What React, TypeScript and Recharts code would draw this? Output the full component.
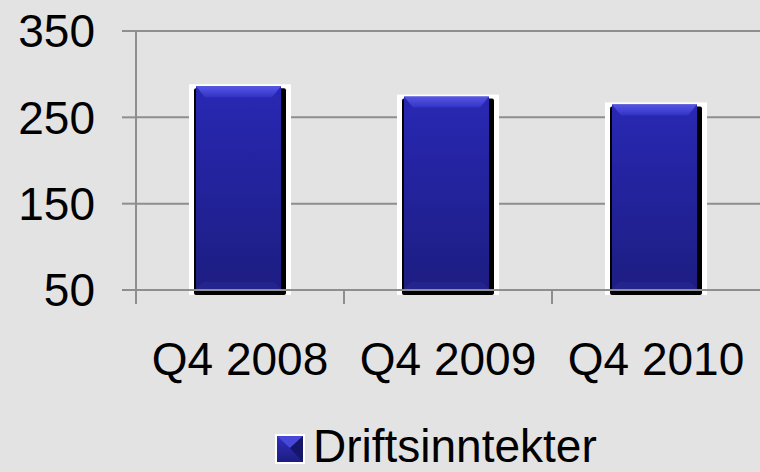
import { BarChart, Bar, XAxis, YAxis, CartesianGrid, Legend } from 'recharts';

const categories = ['Q4 2008', 'Q4 2009', 'Q4 2010'];
const driftsinntekter = [286, 274, 265];
const yTicks = [50, 150, 250, 350];

const data = categories.map((name, i) => ({ name, value: driftsinntekter[i] }));

const GRID = '#8e8e8e';
const FONT = '"Liberation Sans", Arial, sans-serif';

const BarShape = (props: any) => {
  const { x, y, width, height } = props;
  return (
    <g>
      <rect x={x - 5} y={y - 2} width={width + 10} height={height + 7} fill="#ffffff" />
      <rect x={x} y={y + 2} width={width} height={height + 3} fill="#000000" rx={2} />
      <rect x={x + 2} y={y} width={width - 7} height={height - 1} fill="url(#barGrad)" />
      <polygon
        points={`${x + 2},${y} ${x + width - 5},${y} ${x + width - 14},${y + 11} ${x + 11},${y + 11}`}
        fill="url(#bevelGrad)"
      />
      <polygon
        points={`${x + 2},${y + height - 1} ${x + width - 5},${y + height - 1} ${x + width - 12},${y + height - 8} ${x + 9},${y + height - 8}`}
        fill="#24248e"
      />
    </g>
  );
};

const CategoryTick = (props: any) => {
  const { x, y, payload } = props;
  const half = payload && payload.offset ? payload.offset : 104;
  return (
    <g>
      <line x1={x - half} y1={y} x2={x - half} y2={y + 14} stroke={GRID} strokeWidth={2} />
      <text x={x} y={375} textAnchor="middle" fontSize={46} fontFamily={FONT} fill="#000">
        {payload.value}
      </text>
    </g>
  );
};

const LegendContent = () => (
  <div style={{ position: 'relative', width: 760, height: 70, fontFamily: FONT }}>
    <svg width={30} height={30} style={{ position: 'absolute', left: 275, top: 32 }}>
      <defs>
        <linearGradient id="legGrad" x1="0" y1="0" x2="0" y2="1">
          <stop offset="0%" stopColor="#3030c0" />
          <stop offset="100%" stopColor="#1c1c80" />
        </linearGradient>
      </defs>
      <rect x={0} y={0} width={30} height={30} fill="#ffffff" />
      <rect x={2} y={2} width={26} height={26} fill="url(#legGrad)" />
      <polygon points="2,2 28,2 15,14" fill="#4848d8" />
      <polygon points="28,2 28,28 15,14" fill="#15156a" />
    </svg>
    <span
      style={{
        position: 'absolute',
        left: 313,
        top: 24,
        fontSize: 46,
        lineHeight: '40px',
        color: '#000',
        whiteSpace: 'nowrap',
      }}
    >
      Driftsinntekter
    </span>
  </div>
);

export default function App() {
  return (
    <div style={{ position: 'absolute', left: 0, top: 0, width: 760, height: 472, background: '#e3e3e3' }}>
      <BarChart width={760} height={472} data={data} margin={{ top: 31, right: 0, left: 0, bottom: 0 }} barCategoryGap="0%">
        <defs>
          <linearGradient id="barGrad" x1="0" y1="0" x2="0" y2="1">
            <stop offset="0%" stopColor="#2828b4" />
            <stop offset="100%" stopColor="#1d1d82" />
          </linearGradient>
          <linearGradient id="bevelGrad" x1="0" y1="0" x2="0" y2="1">
            <stop offset="0%" stopColor="#5656e6" />
            <stop offset="100%" stopColor="#3232c4" />
          </linearGradient>
        </defs>
        <CartesianGrid vertical={false} stroke={GRID} strokeWidth={2} />
        <XAxis
          dataKey="name"
          height={112}
          axisLine={{ stroke: GRID, strokeWidth: 2 }}
          tickLine={false}
          tickSize={0}
          tickMargin={0}
          tick={<CategoryTick />}
          interval={0}
        />
        <YAxis
          width={136}
          domain={[50, 350]}
          ticks={yTicks}
          axisLine={{ stroke: GRID, strokeWidth: 2 }}
          tickLine={{ stroke: GRID, strokeWidth: 2 }}
          tickSize={14}
          tickMargin={27}
          tick={{ fontSize: 46, fontFamily: FONT, fill: '#000' }}
          interval={0}
        />
        <Legend verticalAlign="bottom" content={<LegendContent />} />
        <Bar dataKey="value" barSize={92} shape={<BarShape />} isAnimationActive={false} />
      </BarChart>
    </div>
  );
}
